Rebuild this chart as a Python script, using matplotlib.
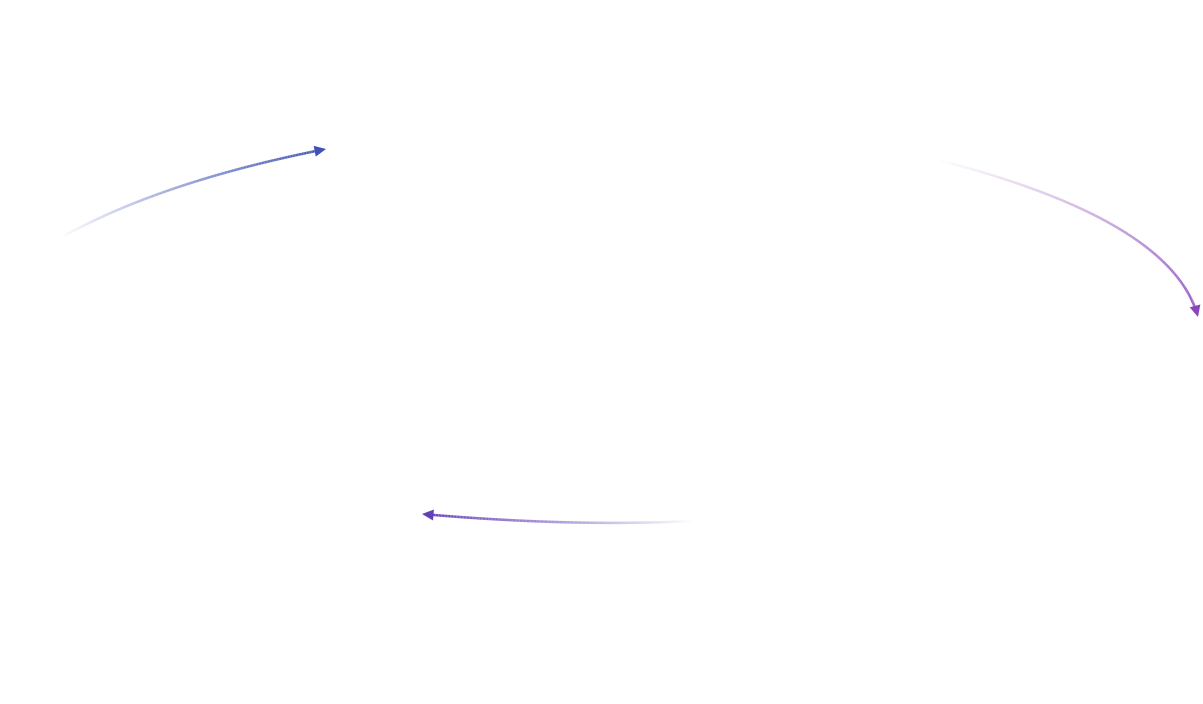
import numpy as np
import matplotlib
matplotlib.use("Agg")
import matplotlib.pyplot as plt
from matplotlib.collections import LineCollection
from matplotlib.colors import to_rgba

# Edge definitions (quadratic curves in pixel-like canvas coordinates)
edge_names = ["A→B", "C→D", "E→F"]
edge_starts = [(62, 237), (938, 160), (692, 521)]
edge_controls = [(163, 181), (1172, 220), (572, 527)]
edge_ends = [(326, 149), (1198, 317), (422, 514)]
edge_colors = ["#3f51b5", "#8a44bc", "#6440b8"]

W, H = 1203, 704
fig = plt.figure(figsize=(W / 100, H / 100), dpi=100)
ax = fig.add_axes([0, 0, 1, 1])
ax.set_xlim(0, W)
ax.set_ylim(H, 0)
ax.axis("off")

head_len = 11.5
head_half = 5.5
t = np.linspace(0, 1, 200)
for p0, c, p2, col in zip(edge_starts, edge_controls, edge_ends, edge_colors):
    p0, c, p2 = map(np.array, (p0, c, p2))
    tan = p2 - c
    tan = tan / np.linalg.norm(tan)
    base = p2 - tan * head_len
    pts = ((1 - t)[:, None] ** 2) * p0 + (2 * (1 - t) * t)[:, None] * c + (t[:, None] ** 2) * p2
    d = np.linalg.norm(pts - p2, axis=1)
    keep = d >= head_len * 0.8
    pts = pts[keep]
    tt = t[keep]
    segs = np.stack([pts[:-1], pts[1:]], axis=1)
    rgba = np.array([to_rgba(col)] * len(segs))
    rgba[:, 3] = np.clip(tt[1:], 0, 1)
    lc = LineCollection(segs, colors=rgba, linewidths=1.8, capstyle="butt")
    ax.add_collection(lc)
    normal = np.array([-tan[1], tan[0]])
    tri = np.array([p2, base + normal * head_half, base - normal * head_half])
    ax.fill(tri[:, 0], tri[:, 1], color=col, lw=0)

fig.savefig("out.png", dpi=100, facecolor="white")
